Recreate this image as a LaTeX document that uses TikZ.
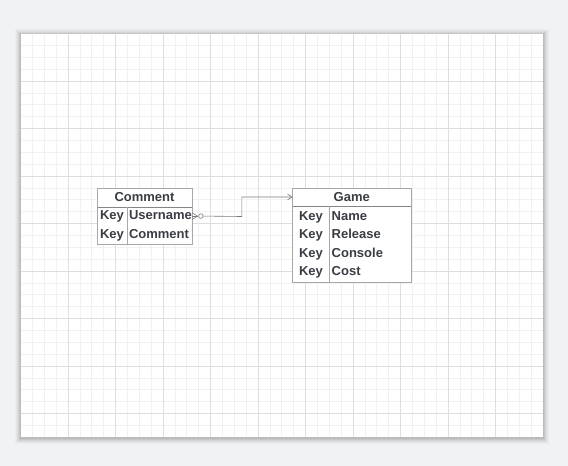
\documentclass[tikz,border=0pt]{standalone}
\usepackage{fontspec}
\setmainfont{Liberation Sans}
\usetikzlibrary{arrows.meta}
\definecolor{bgc}{HTML}{F1F2F4}
\definecolor{minorc}{HTML}{F1F1F1}
\definecolor{majorc}{HTML}{DEDEDE}
\definecolor{boxc}{HTML}{A8A8A8}
\definecolor{sepc}{HTML}{858585}
\definecolor{txtc}{HTML}{3A3E44}
\definecolor{linec}{HTML}{7A7A7A}
\tikzset{
  cell/.style={minimum height=#1, inner sep=0pt, anchor=north west},
  hdr/.style={font=\bfseries\fontsize{13}{14}\selectfont, text=txtc, inner sep=0pt, anchor=base},
  txt/.style={font=\bfseries\fontsize{13}{14}\selectfont, text=txtc, inner sep=0pt, anchor=base west},
  conn/.style={draw=linec, line width=0.6pt},
}
\begin{document}
\begin{tikzpicture}[x=1pt,y=-1pt]
\useasboundingbox (0,0) rectangle (568,466);
\fill[bgc] (0,0) rectangle (568,466);
% shadow
\foreach \i/\o in {6/0.025,5/0.025,4/0.035,3/0.045,2/0.055,1/0.06}{
  \fill[black,opacity=\o] (20.5-\i,33.5-\i+1) rectangle (542.5+\i,437+\i+1);
}
\fill[white] (20.5,33.5) rectangle (542.5,437);
% minor grid
\foreach \k in {1,...,43}{
  \draw[minorc,line width=0.7pt] (20.5+\k*11.875,33.5) -- (20.5+\k*11.875,437);
}
\foreach \k in {1,...,33}{
  \draw[minorc,line width=0.7pt] (20.5,33.5+\k*11.875) -- (542.5,33.5+\k*11.875);
}
% major grid
\foreach \k in {1,...,10}{
  \draw[majorc,line width=0.7pt] (20.5+\k*47.5,33.5) -- (20.5+\k*47.5,437);
}
\foreach \k in {1,...,8}{
  \draw[majorc,line width=0.7pt] (20.5,33.5+\k*47.5) -- (542.5,33.5+\k*47.5);
}
% Comment table
\node[cell=18pt, minimum width=94pt, fill=white] (ch) at (97.5,188.5) {};
\node[cell=18.75pt, minimum width=94pt, fill=white] (cu) at (97.5,206.5) {};
\node[cell=18.75pt, minimum width=94pt, fill=white] (cc) at (97.5,225.25) {};
\draw[boxc, line width=0.7pt] (ch.north west) rectangle (cc.south east);
\draw[sepc, line width=0.8pt] (ch.south west) -- (ch.south east);
\draw[boxc, line width=0.7pt] (127.8,206.5) -- (127.8,244);
\node[hdr] (cht) at (144.5,201.6) {Comment};
\node[txt] (cuk) at (99.8,219.8) {Key};
\node[txt] (cuv) at (128.8,219.8) {Username};
\node[txt] (cck) at (99.8,238.6) {Key};
\node[txt] (ccv) at (128.8,238.6) {Comment};
% Game table
\node[cell=17.5pt, minimum width=118.5pt, fill=white] (gh) at (292.5,188) {};
\node[cell=19pt, minimum width=118.5pt, fill=white] (g1) at (292.5,205.5) {};
\node[cell=19pt, minimum width=118.5pt, fill=white] (g2) at (292.5,224.5) {};
\node[cell=19pt, minimum width=118.5pt, fill=white] (g3) at (292.5,243.5) {};
\node[cell=19pt, minimum width=118.5pt, fill=white] (g4) at (292.5,262.5) {};
\draw[boxc, line width=0.7pt] (gh.north west) rectangle (g4.south east);
\draw[sepc, line width=0.8pt] (gh.south west) -- (gh.south east);
\draw[boxc, line width=0.7pt] (329.3,205.5) -- (329.3,281.5);
\node[hdr] (ght) at (351.75,201.3) {Game};
\foreach \n/\v/\yy in {g1/Name/220.2,g2/Release/238.8,g3/Console/257.4,g4/Cost/275.8}{
  \node[txt] (\n k) at (298.8,\yy) {Key};
  \node[txt] (\n v) at (331.5,\yy) {\v};
}
% connector
\coordinate (cs) at (cu.east);
\draw[conn] ([yshift=-3.5pt]cs) -- ([xshift=5.5pt]cs) -- ([yshift=3.5pt]cs);
\draw[conn] (cs) -- ([xshift=6.5pt]cs);
\draw[conn, fill=white] ([xshift=9pt]cs) circle (2.3pt);
\draw[conn, -{Straight Barb[length=4.5pt,width=6pt,line width=0.6pt]}]
  ([xshift=11.3pt]cs) -- (241.8,216.5) |- (gh.west);
\end{tikzpicture}
\end{document}
